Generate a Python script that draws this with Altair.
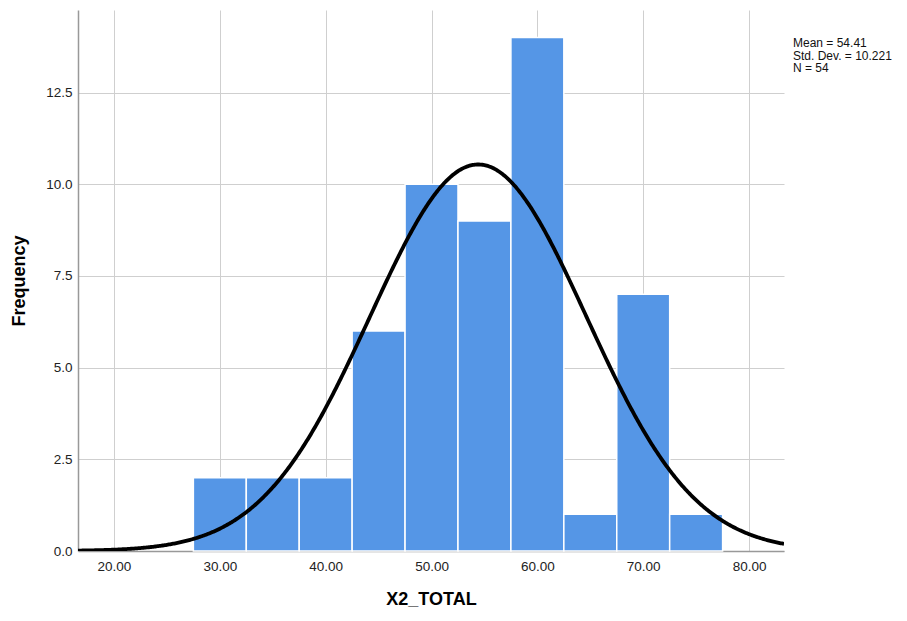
import altair as alt
import pandas as pd

# Histogram bins (X2_TOTAL), width 5
bin_start = [27.5, 32.5, 37.5, 42.5, 47.5, 52.5, 57.5, 62.5, 67.5, 72.5]
bin_end = [32.5, 37.5, 42.5, 47.5, 52.5, 57.5, 62.5, 67.5, 72.5, 77.5]
counts = [2, 2, 2, 6, 10, 9, 14, 1, 7, 1]

# Summary statistics shown on the chart
mean = 54.41
std_dev = 10.221
n = 54
bin_width = 5

stats_lines = ["Mean = 54.41", "Std. Dev. = 10.221", "N = 54"]

x_domain = [16.6, 83.3]
y_domain = [0, 14.75]

bars_df = pd.DataFrame({"start": bin_start, "end": bin_end, "count": counts})
stats_df = pd.DataFrame({"id": [0]})

W, H = 706, 541
FONT = "Liberation Sans"

x_scale = alt.Scale(domain=x_domain, nice=False, zero=False)
y_scale = alt.Scale(domain=y_domain, nice=False)

bars = alt.Chart(bars_df).mark_rect(
    fill="#5596E6", stroke="white", strokeWidth=1.5
).encode(
    x=alt.X("start:Q", scale=x_scale, title="X2_TOTAL",
            axis=alt.Axis(values=[20, 30, 40, 50, 60, 70, 80], format=".2f",
                          tickSize=0, labelPadding=8, titlePadding=18,
                          domainColor="#999999", gridColor="#cfcfcf",
                          labelFontSize=13.5, labelColor="#222222", labelFont=FONT,
                          titleFont=FONT, titleFontSize=18, titleFontWeight="bold",
                          titleColor="#000000")),
    x2="end:Q",
    y=alt.Y("count:Q", scale=y_scale, title="Frequency",
            axis=alt.Axis(values=[0, 2.5, 5, 7.5, 10, 12.5], format=".1f",
                          tickSize=0, labelPadding=6, titlePadding=17,
                          domainColor="#999999", gridColor="#cfcfcf",
                          labelFontSize=13.5, labelColor="#222222", labelFont=FONT,
                          titleFont=FONT, titleFontSize=18, titleFontWeight="bold",
                          titleColor="#000000")),
    y2=alt.datum(0),
)

curve = alt.Chart(alt.sequence(x_domain[0], x_domain[1] + 0.01, 0.1, as_="x")).transform_calculate(
    y=f"{n} * {bin_width} / ({std_dev} * sqrt(2 * PI)) * exp(-0.5 * pow((datum.x - {mean}) / {std_dev}, 2))"
).mark_line(color="black", strokeWidth=3.8, clip=True).encode(
    x=alt.X("x:Q", scale=x_scale),
    y=alt.Y("y:Q", scale=y_scale),
)

stats = alt.Chart(stats_df).mark_text(
    text=stats_lines, align="left", baseline="top", fontSize=12, lineHeight=12.5,
    font=FONT, color="#111111"
).encode(
    x=alt.value(W + 9),
    y=alt.value(28),
)

chart = alt.layer(bars, curve, stats).properties(
    width=W, height=H,
    autosize="none",
    padding={"left": 78, "top": 10, "right": 123, "bottom": 70},
).configure_view(stroke=None).configure_axis(domainWidth=1.5)

chart.save("out.html", embed_options={"renderer": "svg", "actions": False})
